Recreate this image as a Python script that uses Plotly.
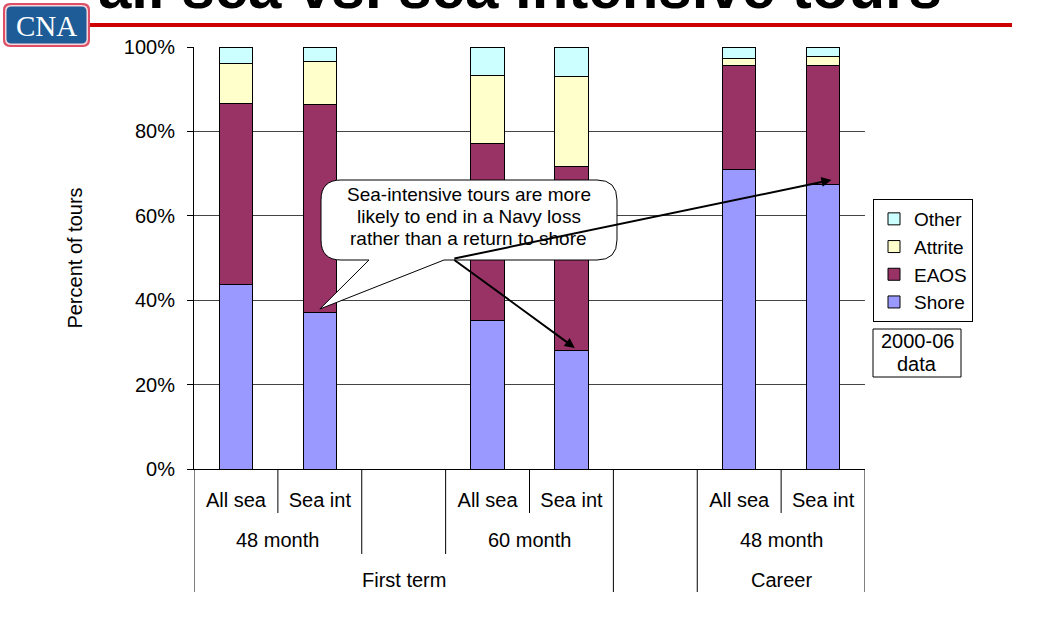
import plotly.graph_objects as go

# ---------------- data ----------------
categories = ["FT48 All sea", "FT48 Sea int", "gap1", "FT60 All sea", "FT60 Sea int",
              "gap2", "CR48 All sea", "CR48 Sea int"]
tick_labels = ["All sea", "Sea int", "", "All sea", "Sea int", "", "All sea", "Sea int"]
level2_labels = ["48 month", "60 month", "48 month"]
level3_labels = ["First term", "Career"]

shore   = [43.8, 37.1, None, 35.3, 28.2, None, 70.9, 67.3]
eaos    = [42.7, 49.2, None, 41.9, 43.6, None, 24.6, 28.4]
attrite = [9.6, 10.3, None, 16.0, 21.3, None, 1.7, 2.0]
other   = [3.9, 3.4, None, 6.8, 6.9, None, 2.8, 2.3]

series_names = ["Shore", "EAOS", "Attrite", "Other"]
series_vals = [shore, eaos, attrite, other]
series_colors = ["#9999FF", "#993366", "#FFFFCC", "#CCFFFF"]

callout_lines = ["Sea-intensive tours are more", "likely to end in a Navy loss",
                 "rather than a return to shore"]
title_text = "all sea vs. sea intensive tours"
note_lines = ["2000-06", "data"]

# ---------------- layout geometry (pixels) ----------------
W, H = 1040, 621
L, R, T, B = 194, 865, 47, 469
FONT = "Liberation Sans, Arial, sans-serif"


def PX(px):
    return (px - L) / (R - L)


def PY(py):
    return (B - py) / (B - T)


def rounded_path(x0, y0, x1, y1, r, tail=None):
    def P(x, y):
        return f"{PX(x):.5f},{PY(y):.5f}"
    s = f"M{P(x0 + r, y0)} L{P(x1 - r, y0)} Q{P(x1, y0)} {P(x1, y0 + r)} "
    s += f"L{P(x1, y1 - r)} Q{P(x1, y1)} {P(x1 - r, y1)} "
    if tail:
        (ax_, tipx, tipy, bx_) = tail
        s += f"L{P(bx_, y1)} L{P(tipx, tipy)} L{P(ax_, y1)} "
    s += f"L{P(x0 + r, y1)} Q{P(x0, y1)} {P(x0, y1 - r)} "
    s += f"L{P(x0, y0 + r)} Q{P(x0, y0)} {P(x0 + r, y0)} Z"
    return s


fig = go.Figure()
for name, vals, col in zip(series_names, series_vals, series_colors):
    fig.add_trace(go.Bar(
        x=categories, y=vals, name=name, width=0.4,
        marker=dict(color=col, line=dict(color="black", width=1)),
    ))

shapes = []
annotations = []

# category dividers below the x axis
div_levels = {-0.5: 592, 0.5: 513, 1.5: 554, 2.5: 554, 3.5: 513, 4.5: 592,
              5.5: 592, 6.5: 513, 7.5: 592}
for xv, yend in div_levels.items():
    shapes.append(dict(type="line", xref="x", yref="paper", x0=xv, x1=xv,
                       y0=0, y1=PY(yend), line=dict(color="black", width=1)))

for lab, xc in zip(level2_labels, [0.5, 3.5, 6.5]):
    annotations.append(dict(text=lab, xref="x", yref="paper", x=xc, y=PY(540),
                            showarrow=False, font=dict(size=20, family=FONT, color="black"),
                            xanchor="center", yanchor="middle"))
for lab, xc in zip(level3_labels, [2, 6.5]):
    annotations.append(dict(text=lab, xref="x", yref="paper", x=xc, y=PY(580),
                            showarrow=False, font=dict(size=20, family=FONT, color="black"),
                            xanchor="center", yanchor="middle"))

# slide header: red rule + logo + clipped title
shapes.append(dict(type="line", xref="paper", yref="paper", x0=PX(88), x1=PX(1012),
                   y0=PY(25), y1=PY(25), line=dict(color="#CC0000", width=4)))
shapes.append(dict(type="path", xref="paper", yref="paper",
                   path=rounded_path(3, 3, 90, 47, 7), fillcolor="#DC4F66", line=dict(width=0)))
shapes.append(dict(type="path", xref="paper", yref="paper",
                   path=rounded_path(5, 5, 88, 45, 6), fillcolor="#F4D6DB", line=dict(width=0)))
shapes.append(dict(type="path", xref="paper", yref="paper",
                   path=rounded_path(6.5, 6.5, 86.5, 43.5, 5), fillcolor="#1E5C97", line=dict(width=0)))
annotations.append(dict(text="CNA", xref="paper", yref="paper", x=PX(46.5), y=PY(25.5),
                        showarrow=False, xanchor="center", yanchor="middle",
                        font=dict(size=29, family="Liberation Serif, Times New Roman, serif", color="white")))
annotations.append(dict(text="<b>" + title_text + "</b>", xref="paper", yref="paper",
                        x=PX(944), y=PY(23), xanchor="right", yanchor="bottom", showarrow=False,
                        font=dict(size=60, family=FONT, color="black")))

# callout bubble
idx_tip = 1
tip_px_x = L + (idx_tip + 0.5) * (R - L) / len(categories)
tip_px_y = B - (shore[idx_tip] + 0.8) / 100 * (B - T)
shapes.append(dict(type="path", xref="paper", yref="paper", layer="above",
                   path=rounded_path(321, 180, 617, 260, 20, tail=(369, tip_px_x, tip_px_y, 444)),
                   fillcolor="white", line=dict(color="black", width=1)))
for line_txt, yy in zip(callout_lines, [195, 216.7, 238.3]):
    annotations.append(dict(text=line_txt, xref="paper", yref="paper", x=PX(468.5), y=PY(yy),
                            showarrow=False, xanchor="center", yanchor="middle",
                            font=dict(size=19, family=FONT, color="black")))

# arrows from bubble to the shore segments of the sea-intensive bars
tail_x, tail_y = 2.586, 49.8
for idx, dx, dy in [(4, 0.04, 0.5), (7, 0.1, 1.2)]:
    annotations.append(dict(xref="x", yref="y", axref="x", ayref="y",
                            x=idx + dx, y=shore[idx] + dy, ax=tail_x, ay=tail_y,
                            text="", showarrow=True, arrowhead=2, arrowsize=1,
                            arrowwidth=2, arrowcolor="black", standoff=0, startstandoff=0))

# data-period note
shapes.append(dict(type="rect", xref="paper", yref="paper", x0=PX(873), x1=PX(961),
                   y0=PY(329), y1=PY(377), line=dict(color="black", width=1), fillcolor="white"))
for line_txt, yy in zip(note_lines, [341, 364]):
    annotations.append(dict(text=line_txt, xref="paper", yref="paper", x=PX(917), y=PY(yy),
                            showarrow=False, xanchor="center", yanchor="middle",
                            font=dict(size=20, family=FONT, color="black")))

fig.update_layout(
    width=W, height=H,
    margin=dict(l=L, r=W - R, t=T, b=H - B, pad=0),
    barmode="stack",
    plot_bgcolor="white", paper_bgcolor="white",
    font=dict(family=FONT, size=20, color="black"),
    showlegend=True,
    legend=dict(x=PX(873), xanchor="left", y=PY(199), yanchor="top",
                traceorder="reversed", bordercolor="black", borderwidth=1,
                bgcolor="white", font=dict(size=19, family=FONT, color="black"),
                itemwidth=30),
    shapes=shapes, annotations=annotations,
    xaxis=dict(type="category", categoryorder="array", categoryarray=categories,
               tickvals=categories, ticktext=tick_labels, range=[-0.5, 7.5],
               showline=True, linecolor="black", linewidth=1, ticks="",
               showgrid=False, ticklabelstandoff=13,
               tickfont=dict(size=20, family=FONT, color="black")),
    yaxis=dict(range=[0, 100], dtick=20, ticksuffix="%", ticks="outside", ticklen=6,
               tickcolor="black", showline=True, linecolor="black", linewidth=1,
               showgrid=True, gridcolor="#444444", gridwidth=1, zeroline=False,
               ticklabelstandoff=8,
               tickfont=dict(size=20, family=FONT, color="black"),
               title=dict(text="Percent of tours", standoff=35,
                          font=dict(size=20, family=FONT, color="black"))),
)

fig.write_html("out.html", config={"displayModeBar": False})

# remove the browser's default page margin so the figure sits at the window origin
with open("out.html", "r", encoding="utf-8") as f:
    html = f.read()
html = html.replace("<head>", "<head><style>html,body{margin:0;padding:0;}</style>", 1)
with open("out.html", "w", encoding="utf-8") as f:
    f.write(html)
